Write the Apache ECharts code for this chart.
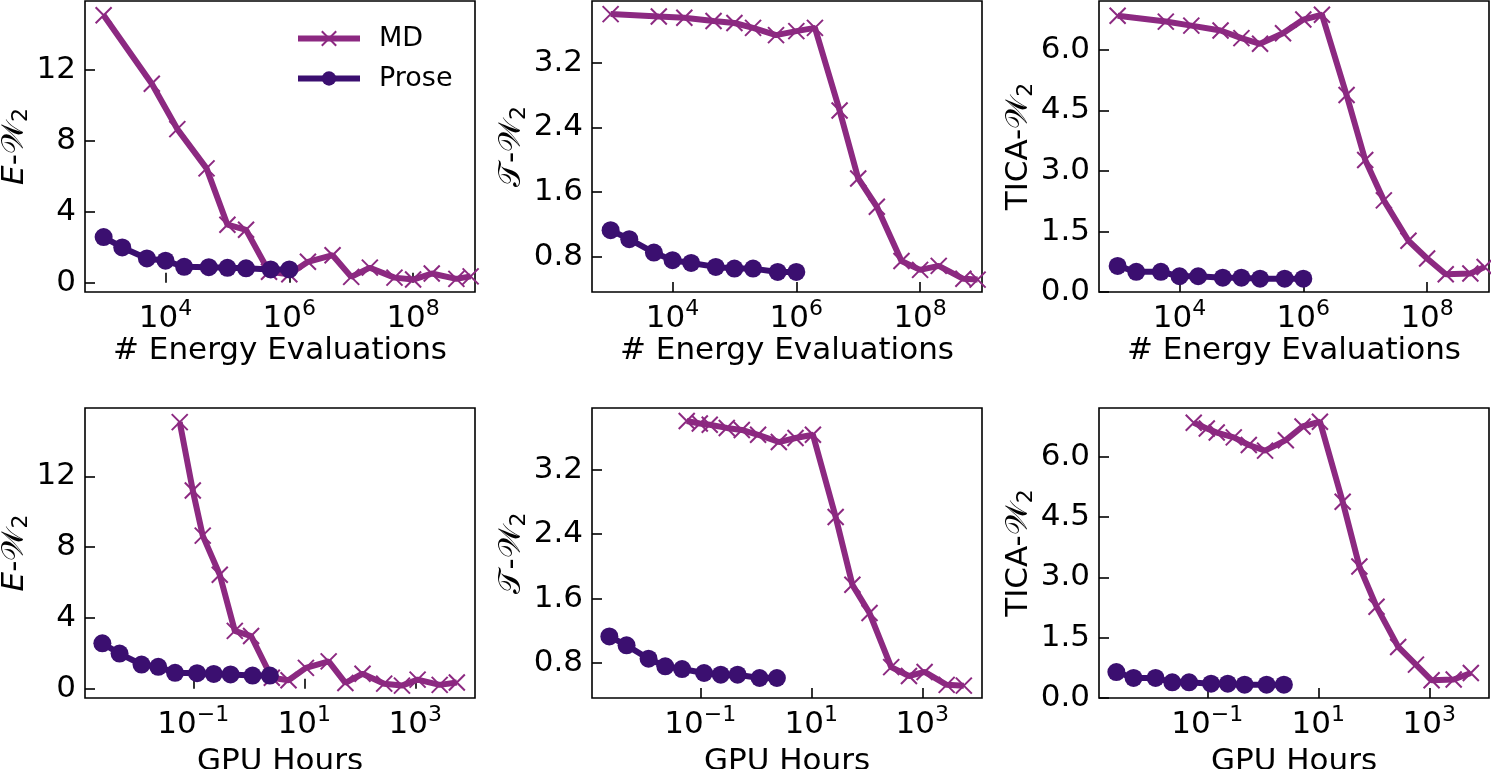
<!DOCTYPE html>
<html>
<head>
<meta charset="utf-8">
<script src="https://cdn.jsdelivr.net/npm/echarts@6/dist/echarts.min.js"></script>
<style>
  html, body { margin: 0; padding: 0; background: #fff; }
  #chart { width: 1491px; height: 769px; }
</style>
</head>
<body>
<div id="chart"></div>
<script>
// x values: energy evaluations and GPU hours
var mdEvals = [1e3, 6e3, 1.55e4, 4.6e4, 1e5, 2e5, 4.7e5, 1e6, 2e6, 5e6, 1e7, 2e7, 5e7, 1e8, 2e8, 5e8, 8.5e8];
var mdGpu = [0.057, 0.098, 0.148, 0.30, 0.56, 1.1, 2.6, 5.2, 10.7, 27.5, 55, 112, 275, 575, 1100, 2750, 5600];
var proseEvals = [1e3, 2e3, 5e3, 1e4, 2e4, 5e4, 1e5, 2e5, 5e5, 1e6];
var proseGpu = [0.0023, 0.0047, 0.0117, 0.0234, 0.047, 0.117, 0.234, 0.47, 1.17, 2.4];

// metrics
var mdE = [15.06, 11.2, 8.65, 6.44, 3.27, 2.98, 0.62, 0.48, 1.18, 1.55, 0.33, 0.85, 0.29, 0.18, 0.52, 0.22, 0.36];
var mdT = [3.80, 3.77, 3.755, 3.715, 3.69, 3.63, 3.54, 3.59, 3.63, 2.61, 1.77, 1.42, 0.75, 0.64, 0.69, 0.53, 0.52];
var mdTica = [6.845, 6.70, 6.60, 6.48, 6.29, 6.15, 6.41, 6.75, 6.87, 4.88, 3.27, 2.27, 1.27, 0.83, 0.44, 0.46, 0.62];
var proseE = [2.57, 1.99, 1.37, 1.24, 0.9, 0.88, 0.84, 0.81, 0.75, 0.75];
var proseT = [1.13, 1.02, 0.854, 0.76, 0.726, 0.677, 0.656, 0.656, 0.615, 0.615];
var proseTica = [0.646, 0.50, 0.50, 0.39, 0.39, 0.356, 0.356, 0.33, 0.33, 0.33];

// tick labels
var evalTicks = [1e4, 1e6, 1e8];
var gpuTicks = [0.1, 10, 1000];
var eTicks = [0, 4, 8, 12];
var tTicks = [0.8, 1.6, 2.4, 3.2];
var ticaTicks = [0, 1.5, 3, 4.5, 6];

var MD_COLOR = '#8c2981';
var PROSE_COLOR = '#3b0f70';
var FONT = 'DejaVu Sans';
var FS = 31;
var CROSS = 'path://M0,0L10,10M10,0L0,10';

function pairs(xs, ys) {
    return xs.map(function (x, i) { return [x, ys[i]]; });
}

// 10^n tick text
function supLabel(v) {
    var e = Math.round(Math.log10(v));
    var s = e < 0 ? '\u2212' + (-e) : '' + e;
    return '10{sup|' + s + '}';
}

var gridPos = [
    {left: 85, top: 1, width: 390, height: 291},
    {left: 592, top: 1, width: 390, height: 291},
    {left: 1099, top: 1, width: 390, height: 291},
    {left: 85, top: 408, width: 390, height: 290},
    {left: 592, top: 408, width: 390, height: 290},
    {left: 1099, top: 408, width: 390, height: 290}
];

var grids = gridPos.map(function (g) {
    return {
        left: g.left, top: g.top, width: g.width, height: g.height,
        outerBoundsMode: 'none', containLabel: false,
        show: true, borderColor: '#000', borderWidth: 1.6, backgroundColor: 'transparent'
    };
});

function xAxisFor(i, ticks, min, max, name, gap) {
    return {
        gridIndex: i,
        type: 'log',
        logBase: 10,
        min: min,
        max: max,
        name: name,
        nameLocation: 'middle',
        nameGap: gap,
        nameTextStyle: {fontFamily: FONT, fontSize: FS, color: '#000'},
        axisLine: {show: false},
        splitLine: {show: false},
        minorTick: {show: false},
        axisTick: {show: true, inside: true, length: 10, customValues: ticks,
            lineStyle: {color: '#000', width: 1.6}},
        axisLabel: {
            customValues: ticks,
            margin: 6,
            fontFamily: FONT, fontSize: FS, color: '#000',
            formatter: supLabel,
            rich: {sup: {fontFamily: FONT, fontSize: 22, color: '#000', padding: [0, 0, 20, 0]}}
        }
    };
}

function yAxisFor(i, ticks, min, max, digits, nameRich, gap) {
    return {
        gridIndex: i,
        type: 'value',
        min: min,
        max: max,
        name: nameRich,
        nameLocation: 'middle',
        nameGap: gap,
        nameTextStyle: {
            fontFamily: FONT, fontSize: FS, color: '#000',
            rich: {
                it: {fontFamily: FONT, fontStyle: 'italic', fontSize: FS, color: '#000'},
                cal: {fontFamily: FONT, fontSize: FS, color: '#000'},
                sub: {fontFamily: FONT, fontSize: 22, color: '#000', padding: [14, 0, 0, 0]}
            }
        },
        axisLine: {show: false},
        splitLine: {show: false},
        axisTick: {show: true, inside: true, length: 10, customValues: ticks,
            lineStyle: {color: '#000', width: 1.6}},
        axisLabel: {
            customValues: ticks,
            margin: 9,
            fontFamily: FONT, fontSize: FS, color: '#000',
            formatter: function (v) { return digits ? v.toFixed(digits) : String(v); }
        }
    };
}

var E_NAME = '{it|E}-{cal|\ud835\udcb2}{sub|2}';
var T_NAME = '{cal|\ud835\udcaf}-{cal|\ud835\udcb2}{sub|2}';
var TICA_NAME = 'TICA-{cal|\ud835\udcb2}{sub|2}';

var xAxes = [
    xAxisFor(0, evalTicks, 500, 1e9, '# Energy Evaluations', 43),
    xAxisFor(1, evalTicks, 500, 1e9, '# Energy Evaluations', 43),
    xAxisFor(2, evalTicks, 500, 1e9, '# Energy Evaluations', 43),
    xAxisFor(3, gpuTicks, 0.00112, 11900, 'GPU Hours', 48),
    xAxisFor(4, gpuTicks, 0.00112, 11900, 'GPU Hours', 48),
    xAxisFor(5, gpuTicks, 0.00112, 11900, 'GPU Hours', 48)
];

var yAxes = [
    yAxisFor(0, eTicks, -0.52, 15.86, 0, E_NAME, 52),
    yAxisFor(1, tTicks, 0.367, 3.962, 1, T_NAME, 62),
    yAxisFor(2, ticaTicks, 0, 7.21, 1, TICA_NAME, 62),
    yAxisFor(3, eTicks, -0.52, 15.86, 0, E_NAME, 52),
    yAxisFor(4, tTicks, 0.367, 3.962, 1, T_NAME, 62),
    yAxisFor(5, ticaTicks, 0, 7.21, 1, TICA_NAME, 62)
];

function mdSeries(i, xs, ys) {
    return {
        name: 'MD', type: 'line', xAxisIndex: i, yAxisIndex: i,
        data: pairs(xs, ys),
        symbol: CROSS, symbolSize: 16, showSymbol: true,
        lineStyle: {color: MD_COLOR, width: 6},
        itemStyle: {color: 'rgba(0,0,0,0)', borderColor: MD_COLOR, borderWidth: 2},
        z: 2
    };
}

function proseSeries(i, xs, ys) {
    return {
        name: 'Prose', type: 'line', xAxisIndex: i, yAxisIndex: i,
        data: pairs(xs, ys),
        symbol: 'circle', symbolSize: 18, showSymbol: true,
        lineStyle: {color: PROSE_COLOR, width: 6},
        itemStyle: {color: PROSE_COLOR, borderWidth: 0},
        z: 3
    };
}

var series = [
    mdSeries(0, mdEvals, mdE), proseSeries(0, proseEvals, proseE),
    mdSeries(1, mdEvals, mdT), proseSeries(1, proseEvals, proseT),
    mdSeries(2, mdEvals, mdTica), proseSeries(2, proseEvals, proseTica),
    mdSeries(3, mdGpu, mdE), proseSeries(3, proseGpu, proseE),
    mdSeries(4, mdGpu, mdT), proseSeries(4, proseGpu, proseT),
    mdSeries(5, mdGpu, mdTica), proseSeries(5, proseGpu, proseTica)
];

var myChart = echarts.init(document.getElementById('chart'));
var option = {
    backgroundColor: '#fff',
    animation: false,
    legend: {
        data: ['MD', 'Prose'],
        orient: 'vertical',
        left: 295,
        top: 25,
        padding: 0,
        itemWidth: 62,
        itemHeight: 18,
        itemGap: 13,
        lineStyle: {width: 6},
        textStyle: {fontFamily: FONT, fontSize: 27, color: '#000', padding: [0, 0, 0, 14]}
    },
    grid: grids,
    xAxis: xAxes,
    yAxis: yAxes,
    series: series
};
myChart.setOption(option);
</script>
</body>
</html>
